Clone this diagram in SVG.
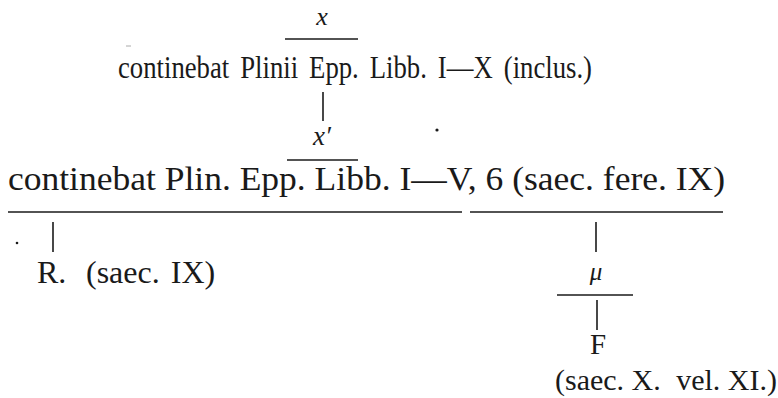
<svg xmlns="http://www.w3.org/2000/svg" width="778" height="398" viewBox="0 0 778 398">
<style>
  .t { font-family: 'Liberation Serif', 'DejaVu Serif', 'Times New Roman', serif; fill: #1a1a1a; }
  .it { font-family: 'Liberation Serif', 'DejaVu Serif', 'Times New Roman', serif; font-style: italic; fill: #1a1a1a; }
  .rule { stroke: #1a1a1a; stroke-width: 1.6; fill: none; }
  .conn { stroke: #1a1a1a; stroke-width: 1.6; fill: none; }
</style>
<rect width="778" height="398" fill="#ffffff"/>
<g id="node-x">
  <text class="it" x="322" y="25" font-size="26" text-anchor="middle">x</text>
  <line class="rule" x1="285" y1="39" x2="358" y2="39"/>
  <text class="t" x="118" y="78" font-size="31" word-spacing="5" textLength="474" lengthAdjust="spacingAndGlyphs">continebat Plinii Epp. Libb. I—X (inclus.)</text>
</g>
<g id="node-x-prime">
  <text class="it" x="322" y="145" font-size="27" text-anchor="middle">x′</text>
  <line class="rule" x1="287" y1="160" x2="358" y2="160"/>
  <text class="t" x="8" y="190" font-size="33" textLength="717" lengthAdjust="spacingAndGlyphs">continebat Plin. Epp. Libb. I—V, 6 (saec. fere. IX)</text>
  <line class="rule" x1="8" y1="212" x2="462" y2="212"/>
  <line class="rule" x1="470" y1="212" x2="723" y2="212"/>
</g>
<g id="node-R">
  <text class="t" y="283" font-size="32"><tspan x="37">R.</tspan><tspan x="86" word-spacing="3">(saec. IX)</tspan></text>
</g>
<g id="node-mu">
  <text class="it" x="596" y="280" font-size="25" text-anchor="middle">μ</text>
  <line class="rule" x1="557" y1="295" x2="633" y2="295"/>
</g>
<g id="node-F">
  <text class="t" x="598" y="354" font-size="29" text-anchor="middle">F</text>
  <text class="t" y="390" font-size="30"><tspan x="555">(saec. X.</tspan><tspan x="777" text-anchor="end">vel. XI.)</tspan></text>
</g>
<g id="connectors">
  <line class="conn" x1="323" y1="92" x2="323" y2="121"/>
  <line class="conn" x1="53" y1="222" x2="53" y2="252"/>
  <line class="conn" x1="596" y1="222" x2="596" y2="252"/>
  <line class="conn" x1="597" y1="300" x2="597" y2="330"/>
</g>
<g id="specks" fill="#1a1a1a">
  <circle cx="437" cy="130" r="1.6"/>
  <circle cx="17" cy="243" r="1.3"/>
  <line x1="126" y1="46" x2="131" y2="46" stroke="#aaa" stroke-width="1"/>
</g>
</svg>
